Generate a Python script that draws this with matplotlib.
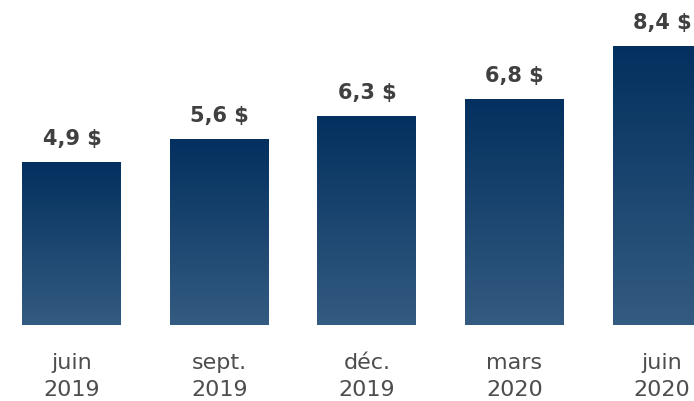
import matplotlib.pyplot as plt
import numpy as np
from matplotlib.colors import LinearSegmentedColormap

categories = ["juin\n2019", "sept.\n2019", "déc.\n2019", "mars\n2020", "juin\n2020"]
values = [4.9, 5.6, 6.3, 6.8, 8.4]
labels = ["4,9 $", "5,6 $", "6,3 $", "6,8 $", "8,4 $"]

plt.rcParams["font.family"] = ["DejaVu Sans"]

fig = plt.figure(figsize=(6.94, 4.01), dpi=100)
ax = fig.add_axes([0, 0, 1, 1])
ax.axis("off")

cmap = LinearSegmentedColormap.from_list("bar", ["#345b81", "#03305f"])
grad = np.linspace(0, 1, 256).reshape(-1, 1)
width = 0.671

for i, (v, lab, cat) in enumerate(zip(values, labels, categories)):
    ax.imshow(grad, cmap=cmap, origin="lower", aspect="auto",
              extent=(i - width / 2, i + width / 2, 0, v), zorder=2)
    ax.text(i, v + 0.42, lab, ha="center", va="bottom", fontsize=15,
            fontweight="bold", color="#404040")
    ax.text(i, -1.55, cat, ha="center", va="center", fontsize=16,
            color="#4d4d4d", linespacing=1.45)

ax.set_xlim(-0.488, 4.217)
ax.set_ylim(-2.296, 9.82)
fig.savefig("out.png", dpi=100)
